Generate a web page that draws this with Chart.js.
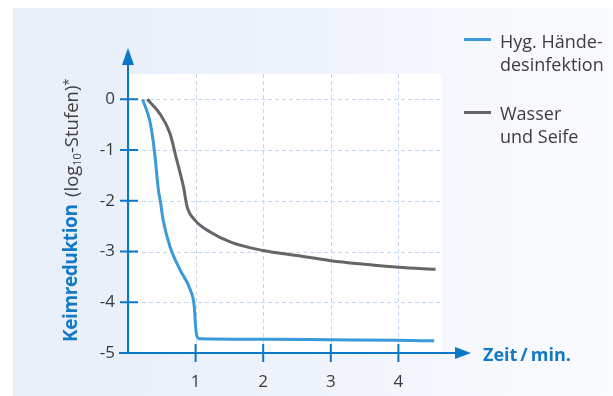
<!DOCTYPE html>
<html>
<head>
<meta charset="utf-8">
<script src="https://cdn.jsdelivr.net/npm/chart.js@4"></script>
<style>
  body { margin: 0; width: 613px; height: 396px; position: relative; overflow: hidden; background: #fff; font-family: "Open Sans", sans-serif; }
  #panel { position: absolute; left: 13px; top: 8px; width: 600px; height: 388px;
    background: linear-gradient(90deg, #e8eff9 0%, #edf2fb 45%, #f6f8fd 75%, #f9fbfe 100%); }
  canvas { position: absolute; left: 0; top: 0; }
  .leg { position: absolute; left: 500px; font-size: 18px; line-height: 23.5px; color: #3c3c3c; white-space: nowrap; }
  .swatch { position: absolute; left: 464px; width: 27px; height: 3px; }
  #xtitle { position: absolute; left: 483px; top: 345px; font-size: 18px; line-height: 18px; font-weight: 700; color: #1479c4; white-space: nowrap; }
  .yt { position: absolute; transform: rotate(-90deg); transform-origin: left top; white-space: nowrap; }
  #ybold { left: 61px; top: 342px; font-size: 19px; line-height: 19px; font-weight: 700; color: #1479c4; letter-spacing: -0.4px; }
  #yreg { left: 62px; top: 197px; font-size: 18.5px; line-height: 18px; color: #404040; }
  #yreg sub { font-size: 11px; line-height: 0; vertical-align: -3px; }
  #yreg sup { font-size: 13px; line-height: 0; vertical-align: 5px; }
</style>
</head>
<body>
<div id="panel"></div>
<canvas id="chart" width="613" height="396"></canvas>
<div class="swatch" style="top:38px;background:#3b9ad9"></div>
<div class="leg" style="top:29.5px">Hyg. Hände-<br>desinfektion</div>
<div class="swatch" style="top:111px;background:#666"></div>
<div class="leg" style="top:101.5px">Wasser<br>und Seife</div>
<div id="xtitle">Zeit&#8201;/&#8201;min.</div>
<div id="ybold" class="yt">Keimreduktion</div>
<div id="yreg" class="yt">(log<sub>10</sub>-Stufen)<sup>*</sup></div>
<script>
// Zeit in Minuten / Keimreduktion in log10-Stufen
const desinfX = [0.215, 0.32, 0.37, 0.40, 0.45, 0.48, 0.52, 0.62, 0.77, 0.92, 0.98, 1.0, 1.02, 1.06, 2, 3, 4, 4.53];
const desinfY = [0, -0.41, -0.8, -1.13, -1.79, -2.02, -2.38, -2.9, -3.36, -3.75, -4.08, -4.48, -4.67, -4.72, -4.73, -4.74, -4.75, -4.76];
const seifeX = [0.285, 0.47, 0.62, 0.72, 0.82, 0.875, 0.99, 1.21, 1.53, 2.0, 2.5, 3.0, 3.5, 4.0, 4.55];
const seifeY = [0, -0.28, -0.67, -1.19, -1.72, -2.12, -2.38, -2.61, -2.82, -2.98, -3.08, -3.18, -3.25, -3.31, -3.35];

const xTicks = [1, 2, 3, 4];
const xTickLabels = ['1', '2', '3', '4'];
const yTicks = [-5, -4, -3, -2, -1, 0];
const yTickLabels = ['-5', '-4', '-3', '-2', '-1', '0'];

const axisColor = '#0a78c6';

const toPoints = (xs, ys) => xs.map((x, i) => ({ x: x, y: ys[i] }));

// white plot area + dashed grid
const plotBg = {
  id: 'plotBg',
  beforeDraw(chart) {
    const { ctx, chartArea: a } = chart;
    ctx.save();
    ctx.fillStyle = '#fff';
    ctx.fillRect(a.left + 2, a.top, a.right - a.left - 2, a.bottom - a.top);
    ctx.restore();
  },
  beforeDatasetsDraw(chart) {
    const { ctx, chartArea: a, scales } = chart;
    ctx.save();
    ctx.strokeStyle = '#c3d8ef';
    ctx.lineWidth = 1;
    ctx.setLineDash([4, 3]);
    ctx.beginPath();
    xTicks.forEach(v => {
      const x = Math.round(scales.x.getPixelForValue(v)) + 0.5;
      ctx.moveTo(x, a.top);
      ctx.lineTo(x, a.bottom);
    });
    yTicks.forEach(v => {
      const y = Math.round(scales.y.getPixelForValue(v)) + 0.5;
      ctx.moveTo(a.left, y);
      ctx.lineTo(a.right, y);
    });
    ctx.stroke();
    ctx.restore();
  }
};

// axes with arrows and crossing tick marks
const arrowAxes = {
  id: 'arrowAxes',
  beforeDatasetsDraw(chart) {
    const { ctx, scales } = chart;
    const x0 = scales.x.getPixelForValue(0);
    const y0 = scales.y.getPixelForValue(-5);
    ctx.save();
    ctx.strokeStyle = axisColor;
    ctx.fillStyle = axisColor;
    ctx.lineWidth = 2;
    ctx.beginPath();
    ctx.moveTo(x0, y0 + 1);
    ctx.lineTo(x0, 62);
    ctx.moveTo(119, y0);
    ctx.lineTo(458, y0);
    yTicks.forEach(v => {
      const y = scales.y.getPixelForValue(v);
      ctx.moveTo(120, y);
      ctx.lineTo(x0 + 10, y);
    });
    xTicks.forEach(v => {
      const x = scales.x.getPixelForValue(v);
      ctx.moveTo(x, y0 - 9);
      ctx.lineTo(x, y0 + 9);
    });
    ctx.stroke();
    ctx.beginPath();
    ctx.moveTo(x0, 48);
    ctx.lineTo(x0 - 6, 65);
    ctx.lineTo(x0 + 6, 65);
    ctx.closePath();
    ctx.fill();
    ctx.beginPath();
    ctx.moveTo(471, y0);
    ctx.lineTo(455, y0 - 6);
    ctx.lineTo(455, y0 + 6);
    ctx.closePath();
    ctx.fill();
    ctx.restore();
  }
};

new Chart(document.getElementById('chart'), {
  type: 'line',
  data: {
    datasets: [
      {
        label: 'Wasser und Seife',
        data: toPoints(seifeX, seifeY),
        borderColor: '#666666',
        borderWidth: 3,
        pointRadius: 0,
        cubicInterpolationMode: 'monotone'
      },
      {
        label: 'Hyg. Händedesinfektion',
        data: toPoints(desinfX, desinfY),
        borderColor: '#3b9ad9',
        borderWidth: 3,
        pointRadius: 0,
        cubicInterpolationMode: 'monotone'
      }
    ]
  },
  options: {
    responsive: false,
    animation: false,
    layout: { padding: { left: 0, top: 74, right: 171, bottom: 0 } },
    plugins: { legend: { display: false }, tooltip: { enabled: false } },
    scales: {
      x: {
        type: 'linear',
        min: 0,
        max: 4.645,
        afterBuildTicks: s => { s.ticks = xTicks.map(v => ({ value: v })); },
        afterFit: s => { s.height = 43; },
        grid: { display: false, drawTicks: false },
        border: { display: false },
        ticks: {
          padding: 19,
          color: '#3a3a3a',
          font: { family: 'Open Sans', size: 17 },
          callback: v => xTickLabels[xTicks.indexOf(v)]
        }
      },
      y: {
        type: 'linear',
        min: -5,
        max: 0.5,
        afterBuildTicks: s => { s.ticks = yTicks.map(v => ({ value: v })); },
        afterFit: s => { s.width = 128; },
        grid: { display: false, drawTicks: false },
        border: { display: false },
        ticks: {
          padding: 13,
          color: '#3a3a3a',
          font: { family: 'Open Sans', size: 17 },
          callback: v => yTickLabels[yTicks.indexOf(v)]
        }
      }
    }
  },
  plugins: [plotBg, arrowAxes]
});
</script>
</body>
</html>
